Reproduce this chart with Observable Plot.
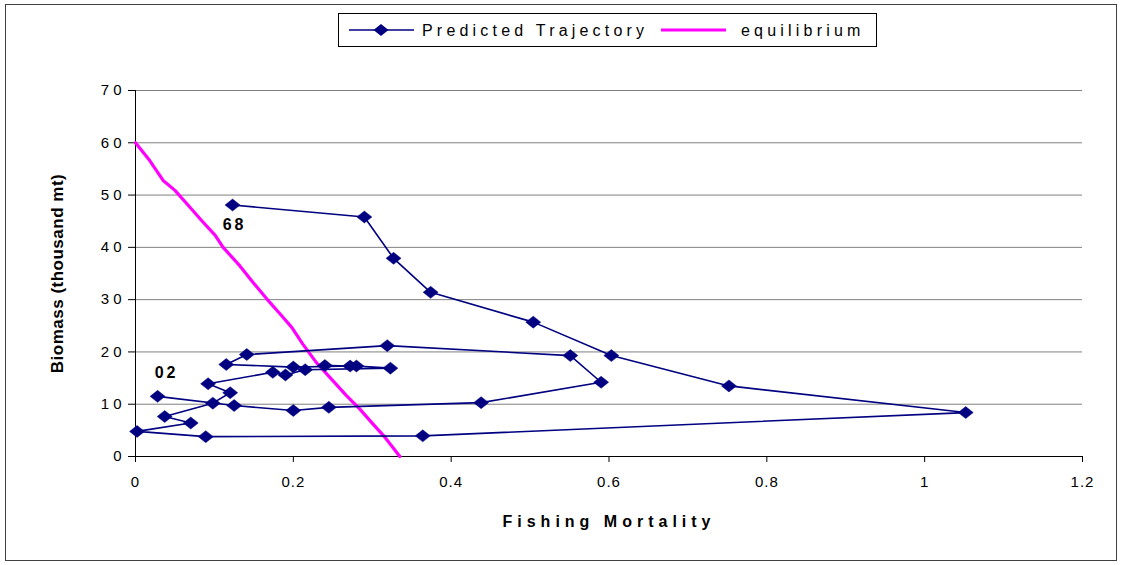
<!DOCTYPE html>
<html>
<head>
<meta charset="utf-8">
<script src="https://cdn.jsdelivr.net/npm/d3@7"></script>
<script src="https://cdn.jsdelivr.net/npm/@observablehq/plot@0.6"></script>
<style>
  html, body { margin: 0; padding: 0; background: #fff; }
  #wrap { position: relative; width: 1122px; height: 565px; font-family: "Liberation Sans", Arial, sans-serif; }
  #frame { position: absolute; left: 5px; top: 4px; width: 1110px; height: 555px; border: 1px solid #404040; pointer-events: none; }
  #legend { position: absolute; left: 338px; top: 13px; width: 537px; height: 32px; border: 1px solid #000; background: #fff; }
  #chart svg { display: block; }
  #chart g[aria-label="y-axis tick label"] text { letter-spacing: 4px; }
  #chart g[aria-label="x-axis tick label"] text { letter-spacing: 1px; }
</style>
</head>
<body>
<div id="wrap">
  <div id="chart"></div>
  <div id="legend"></div>
  <div id="frame"></div>
</div>
<script>
// Predicted trajectory, 1968 -> 2002 (fishing mortality, biomass in thousand mt)
const trajF = [0.123, 0.290, 0.327, 0.374, 0.504, 0.603, 0.752, 1.052, 0.364, 0.089, 0.002, 0.070, 0.037, 0.098, 0.120, 0.092, 0.174, 0.190, 0.215, 0.323, 0.280, 0.240, 0.272, 0.200, 0.115, 0.141, 0.319, 0.551, 0.590, 0.438, 0.245, 0.200, 0.125, 0.028];
const trajB = [48.1, 45.8, 37.9, 31.4, 25.7, 19.3, 13.5, 8.4, 3.95, 3.8, 4.8, 6.4, 7.65, 10.2, 12.2, 13.9, 16.1, 15.6, 16.6, 16.9, 17.3, 17.4, 17.3, 17.1, 17.6, 19.5, 21.2, 19.3, 14.2, 10.3, 9.4, 8.8, 9.75, 11.5];

// Equilibrium curve
const eqF = [0, 0.018, 0.035, 0.050, 0.067, 0.084, 0.101, 0.111, 0.132, 0.149, 0.166, 0.183, 0.198, 0.212, 0.229, 0.250, 0.267, 0.284, 0.301, 0.316, 0.335];
const eqB = [60, 56.6, 52.8, 50.9, 48.0, 45.1, 42.3, 40.0, 36.5, 33.3, 30.2, 27.3, 24.7, 21.5, 18.0, 14.5, 11.7, 9.1, 6.2, 3.7, 0];

// Year labels (first and last point)
const yearLabels = ["68", "02"];

const xTicks = [0, 0.2, 0.4, 0.6, 0.8, 1, 1.2];
const yTicks = [0, 10, 20, 30, 40, 50, 60, 70];

const seriesNames = ["Predicted Trajectory", "equilibrium"];
const xLabel = "Fishing Mortality";
const yLabel = "Biomass (thousand mt)";

const traj = trajF.map((f, i) => ({f, b: trajB[i]}));
const eq = eqF.map((f, i) => ({f, b: eqB[i]}));
const firstPt = [{...traj[0], label: yearLabels[0]}];
const lastPt = [{...traj[traj.length - 1], label: yearLabels[1]}];

const navy = "#000080";
const magenta = "#FF00FF";

const flatDiamond = {
  draw(ctx) {
    const w = 7.5, h = 6;
    ctx.moveTo(0, -h); ctx.lineTo(w, 0); ctx.lineTo(0, h); ctx.lineTo(-w, 0); ctx.closePath();
  }
};

const chart = Plot.plot({
  width: 1122,
  height: 565,
  marginLeft: 135,
  marginRight: 40,
  marginTop: 90,
  marginBottom: 109,
  style: {fontFamily: '"Liberation Sans", Arial, sans-serif', fontSize: "15px", color: "#000", background: "transparent"},
  x: {domain: [0, 1.2]},
  y: {domain: [0, 70]},
  marks: [
    Plot.gridY(yTicks, {stroke: "#808080", strokeOpacity: 1, strokeWidth: 1}),
    Plot.axisY(yTicks, {tickSize: 7, tickPadding: 3, label: null, stroke: "#000", fontSize: 15}),
    Plot.axisX(xTicks, {tickSize: 6, tickPadding: 14, label: null, stroke: "#000", fontSize: 15, tickFormat: d => String(+d.toFixed(1))}),
    Plot.ruleX([0], {stroke: "#000"}),
    Plot.ruleY([0], {stroke: "#000"}),
    Plot.line(eq, {x: "f", y: "b", stroke: magenta, strokeWidth: 3.2}),
    Plot.line(traj, {x: "f", y: "b", stroke: navy, strokeWidth: 1.6}),
    Plot.dot(traj, {x: "f", y: "b", symbol: flatDiamond, fill: navy, stroke: navy, strokeWidth: 0.5}),
    Plot.text(firstPt, {x: "f", y: "b", text: "label", dx: 2, dy: 20, fontWeight: "bold", fontSize: 16, fill: "#000"}),
    Plot.text(lastPt, {x: "f", y: "b", text: "label", dx: 9, dy: -23, fontWeight: "bold", fontSize: 16, fill: "#000"}),
    Plot.text([xLabel], {frameAnchor: "bottom", dx: 0, dy: 70, fontWeight: "bold", fontSize: 16, fill: "#000"}),
    Plot.text([yLabel], {frameAnchor: "left", textAnchor: "middle", dx: -78, rotate: -90, fontWeight: "bold", fontSize: 17, fill: "#000"})
  ]
});
document.getElementById("chart").appendChild(chart);

// letter spacing on some texts
chart.querySelectorAll('g[aria-label="text"] text').forEach(t => {
  if (t.textContent === xLabel) t.style.letterSpacing = "5px";
  if (t.textContent === yLabel) t.style.letterSpacing = "0.5px";
  if (yearLabels.includes(t.textContent)) t.style.letterSpacing = "3px";
});

// Legend
const leg = d3.select("#legend").append("svg").attr("width", 537).attr("height", 32)
  .style("font-family", '"Liberation Sans", Arial, sans-serif');
leg.append("line").attr("x1", 10).attr("x2", 75).attr("y1", 16).attr("y2", 16).attr("stroke", navy).attr("stroke-width", 1.6);
leg.append("path").attr("d", "M42,10L49.5,16L42,22L34.5,16Z").attr("fill", navy);
leg.append("text").attr("x", 83).attr("y", 21.5).attr("font-size", 16).style("letter-spacing", "4.2px").text(seriesNames[0]);
leg.append("line").attr("x1", 322).attr("x2", 387).attr("y1", 16).attr("y2", 16).attr("stroke", magenta).attr("stroke-width", 3.2);
leg.append("text").attr("x", 402).attr("y", 21.5).attr("font-size", 16).style("letter-spacing", "4.2px").text(seriesNames[1]);
</script>
</body>
</html>
